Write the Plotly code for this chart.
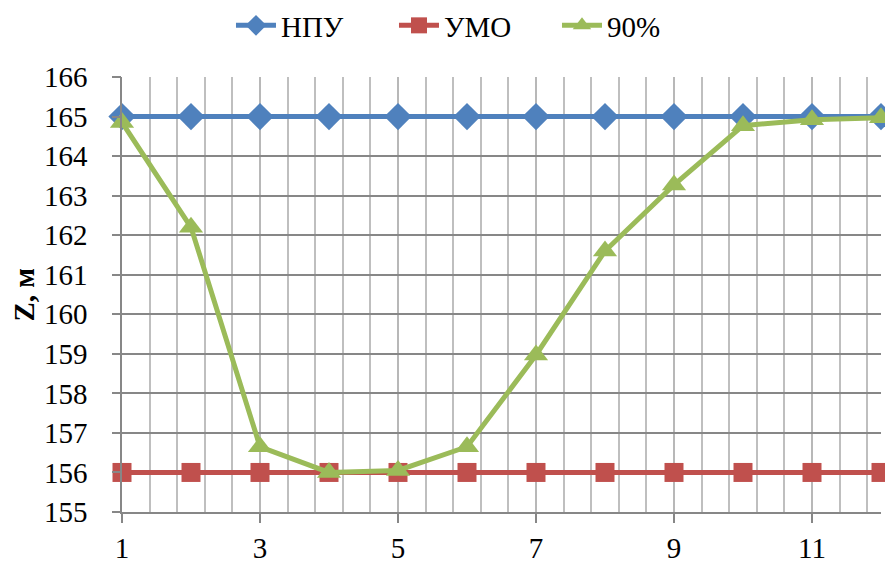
import plotly.graph_objects as go

x_vals = [1, 2, 3, 4, 5, 6, 7, 8, 9, 10, 11, 12]
npu = [165, 165, 165, 165, 165, 165, 165, 165, 165, 165, 165, 165]
umo = [156, 156, 156, 156, 156, 156, 156, 156, 156, 156, 156, 156]
p90 = [164.85, 162.2, 156.65, 156.0, 156.05, 156.65, 158.97, 161.6, 163.27, 164.77, 164.92, 164.97]

series_names = ["НПУ", "УМО", "90%"]
colors = ["#4F81BD", "#C0504D", "#9BBB59"]
symbols = ["diamond", "square", "triangle-up"]
sizes = [21, 19, 21]
y_title = "<b>Z, м</b>"

fig = go.Figure()
for name, ys, c, s, sz in zip(series_names, [npu, umo, p90], colors, symbols, sizes):
    fig.add_trace(go.Scatter(
        x=x_vals, y=ys, name=name, mode="lines+markers",
        line=dict(color=c, width=5),
        marker=dict(symbol=s, size=sz, color=c),
        cliponaxis=False,
    ))

# invisible trace on a second y axis only to carry short gray tick marks
fig.add_trace(go.Scatter(x=[x_vals[0]], y=[umo[0]], yaxis="y2", mode="markers",
                         marker=dict(opacity=0), showlegend=False, hoverinfo="skip"))

font_family = "Liberation Serif, Times New Roman, serif"
fig.update_layout(
    width=885, height=564,
    margin=dict(l=122, r=4, t=77, b=52),
    paper_bgcolor="white", plot_bgcolor="white",
    font=dict(family=font_family, size=29, color="black"),
    showlegend=True,
    legend=dict(orientation="h", xref="container", x=0.261, xanchor="left",
                yref="container", y=1.0, yanchor="top",
                font=dict(size=29), entrywidth=108, entrywidthmode="pixels",
                itemwidth=40, tracegroupgap=0),
    xaxis=dict(
        range=[1, 12], tick0=1, dtick=2, showgrid=True, gridcolor="#B8B8B8", gridwidth=1.5,
        zeroline=False, showline=True, linecolor="#878787", linewidth=1.5,
        ticks="outside", ticklen=9, tickcolor="#878787", tickwidth=1.5,
        tickfont=dict(size=29), ticklabelstandoff=0, automargin=False,
        minor=dict(tick0=1, dtick=0.4, showgrid=True, gridcolor="#BFBFBF", gridwidth=1.5),
    ),
    yaxis=dict(
        range=[155, 166], dtick=1, showgrid=True, gridcolor="#878787", gridwidth=1.5,
        zeroline=False, showline=True, linecolor="#878787", linewidth=1.5,
        ticks="outside", ticklen=27, tickcolor="rgba(0,0,0,0)", tickwidth=1.5,
        tickfont=dict(size=29), automargin=False,
    ),
    yaxis2=dict(
        range=[155, 166], dtick=1, overlaying="y", side="left", showgrid=False,
        zeroline=False, showline=False, showticklabels=False,
        ticks="outside", ticklen=9, tickcolor="#878787", tickwidth=1.5, automargin=False,
    ),
    annotations=[dict(text=y_title, xref="paper", yref="paper", x=0, y=0.5,
                      xanchor="center", yanchor="middle", xshift=-99, yshift=0,
                      textangle=-90, showarrow=False, font=dict(size=29))],
)

fig.write_html("out.html")
